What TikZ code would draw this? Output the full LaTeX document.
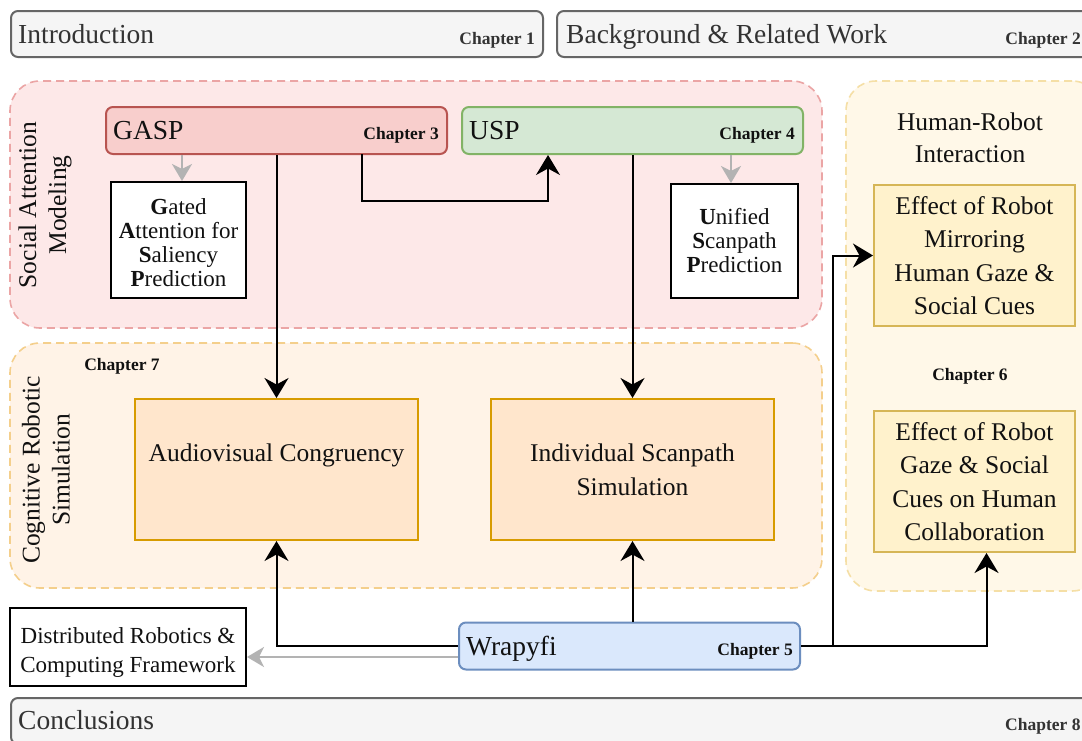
\documentclass[tikz,border=0pt]{standalone}
\usepackage{fontspec}
\setmainfont{Liberation Serif}
\usetikzlibrary{arrows.meta}

\definecolor{hdrfill}{HTML}{F5F5F5}
\definecolor{hdrline}{HTML}{666666}
\definecolor{hdrtext}{HTML}{333333}
\definecolor{samfill}{HTML}{FDE8E8}
\definecolor{samline}{HTML}{EBA5A5}
\definecolor{crsfill}{HTML}{FFF3E7}
\definecolor{crsline}{HTML}{F4CF8C}
\definecolor{hrifill}{HTML}{FFF8E8}
\definecolor{hriline}{HTML}{F5DFA6}
\definecolor{redfill}{HTML}{F8CECC}
\definecolor{redline}{HTML}{B85450}
\definecolor{grnfill}{HTML}{D5E8D4}
\definecolor{grnline}{HTML}{82B366}
\definecolor{orgfill}{HTML}{FFE6CC}
\definecolor{orgline}{HTML}{D79B00}
\definecolor{yelfill}{HTML}{FFF2CC}
\definecolor{yelline}{HTML}{D6B656}
\definecolor{blufill}{HTML}{DAE8FC}
\definecolor{bluline}{HTML}{6C8EBF}
\definecolor{greyarrow}{HTML}{B3B3B3}
\definecolor{ink}{HTML}{111111}

\newcommand\fontHdr{\fontsize{27.5}{30}\selectfont}
\newcommand\fontBox{\fontsize{25.5}{34}\selectfont}
\newcommand\fontSide{\fontsize{25.5}{30}\selectfont}
\newcommand\fontDef{\fontsize{23}{24}\selectfont}
\newcommand\fontChap{\fontsize{17.5}{20}\selectfont\bfseries}

\tikzset{
  blackhead/.tip={Stealth[length=20pt,width=24pt,inset=6.5pt]},
  greyhead/.tip={Stealth[length=17pt,width=20pt,inset=5pt]}
}

\begin{document}
\begin{tikzpicture}[x=1pt,y=-1pt,
  hdrbox/.style={draw=hdrline,fill=hdrfill,line width=2pt,rounded corners=7pt,
    minimum height=46pt,inner sep=0pt},
  hdrtitle/.style={anchor=base west,font=\fontHdr,text=hdrtext,inner sep=0pt},
  hdrchap/.style={anchor=base east,font=\fontChap,text=hdrtext,inner sep=0pt},
  group/.style={line width=1.6pt,dash pattern=on 8pt off 5pt,rounded corners=30pt,inner sep=0pt},
  modbox/.style={line width=2pt,rounded corners=7pt,minimum width=341pt,minimum height=47pt,inner sep=0pt},
  modtitle/.style={anchor=base west,font=\fontHdr,text=ink,inner sep=0pt},
  modchap/.style={anchor=base east,font=\fontChap,text=ink,inner sep=0pt},
  defbox/.style={draw=black,fill=white,line width=2pt,align=center,font=\fontDef,text=ink,inner sep=0pt},
  taskbox/.style={line width=2pt,align=center,font=\fontBox,text=ink,inner sep=0pt},
  sidelabel/.style={rotate=90,align=center,font=\fontSide,text=ink,inner sep=0pt},
  link/.style={line width=2pt,draw=black},
  linkarrow/.style={link,-blackhead},
  greylink/.style={line width=2.5pt,draw=greyarrow,-greyhead}
]
\useasboundingbox (0,0) rectangle (1082,740);
\clip (0,0) rectangle (1082,740);
\fill[white] (0,0) rectangle (1082,740);

% chapter header bars
\node[hdrbox,minimum width=532pt] (intro) at (277,34) {};
\node[hdrtitle] (introT) at (18,43) {Introduction};
\node[hdrchap] (introC) at (535,44) {Chapter 1};

\node[hdrbox,minimum width=534pt] (bg) at (824,34) {};
\node[hdrtitle] (bgT) at (566,43) {Background \& Related Work};
\node[hdrchap] (bgC) at (1081,44) {Chapter 2};

\node[hdrbox,minimum width=1090pt] (concl) at (556,721) {};
\node[hdrtitle] (conclT) at (18,729) {Conclusions};
\node[hdrchap,anchor=base west] (conclC) at (1005,730) {Chapter 8};

% grouping panels
\node[group,draw=samline,fill=samfill,minimum width=812pt,minimum height=247pt] (sam) at (416,204.5) {};
\node[group,draw=crsline,fill=crsfill,minimum width=812pt,minimum height=245pt] (crs) at (416,465.5) {};
\node[group,draw=hriline,fill=hrifill,minimum width=256pt,minimum height=510pt] (hri) at (974,336) {};

\node[sidelabel] (samL) at (45,205) {Social Attention\\Modeling};
\node[sidelabel] (crsL) at (46,470) {Cognitive Robotic\\Simulation};
\node[align=center,text=ink,inner sep=0pt,font=\fontsize{25.5}{32}\selectfont] (hriL) at (970,138) {Human-Robot\\Interaction};
\node[font=\fontChap,text=ink,inner sep=0pt] (ch6) at (970,376) {Chapter 6};
\node[font=\fontChap,text=ink,inner sep=0pt] (ch7) at (122,366) {Chapter 7};

% social attention models
\node[modbox,draw=redline,fill=redfill] (gasp) at (276.5,130.5) {};
\node[modtitle] (gaspT) at (113,139) {GASP};
\node[modchap] (gaspC) at (439,139) {Chapter 3};

\node[modbox,draw=grnline,fill=grnfill] (usp) at (632.5,130.5) {};
\node[modtitle] (uspT) at (469,139) {USP};
\node[modchap] (uspC) at (795,139) {Chapter 4};

\node[defbox,minimum width=135pt,minimum height=116pt] (gated) at (178.5,240)
  {\rule{0pt}{22pt}\textbf{G}ated\\\textbf{A}ttention for\\\textbf{S}aliency\\\textbf{P}rediction};
\node[defbox,minimum width=127pt,minimum height=114pt] (unified) at (734.5,241)
  {\textbf{U}nified\\\textbf{S}canpath\\\textbf{P}rediction};

% simulation tasks
\node[taskbox,draw=orgline,fill=orgfill,minimum width=283pt,minimum height=141pt] (av) at (276.5,469.5)
  {Audiovisual Congruency\\\mbox{}};
\node[taskbox,draw=orgline,fill=orgfill,minimum width=283pt,minimum height=141pt] (isc) at (632.5,469.5)
  {Individual Scanpath\\Simulation};

% human-robot interaction studies
\node[taskbox,draw=yelline,fill=yelfill,minimum width=201pt,minimum height=141pt,font=\fontsize{25.5}{33.5}\selectfont] (mirror) at (974.5,255.5)
  {Effect of Robot\\Mirroring\\Human Gaze \&\\Social Cues};
\node[taskbox,draw=yelline,fill=yelfill,minimum width=201pt,minimum height=141pt,font=\fontsize{25.5}{33.5}\selectfont] (collab) at (974.5,481.5)
  {Effect of Robot\\Gaze \& Social\\Cues on Human\\Collaboration};

% middleware
\node[modbox,draw=bluline,fill=blufill] (wrap) at (629.5,646) {};
\node[modtitle] (wrapT) at (466,655) {Wrapyfi};
\node[modchap] (wrapC) at (793,655) {Chapter 5};
\node[defbox,font=\fontsize{23}{29}\selectfont,minimum width=236pt,minimum height=78pt] (dist) at (128,647)
  {\rule{0pt}{26pt}Distributed Robotics \&\\Computing Framework};

% connectors
\coordinate (split) at (833,646);
\coordinate (gaspOut) at (362,154);
\coordinate (elbowL) at (362,201);
\coordinate (elbowR) at (548,201);
\coordinate (gaspDef) at (182,0);
\coordinate (uspDef) at (731,0);
\coordinate (wrapLow) at ([yshift=-11pt]wrap.west);

\draw[greylink] (gasp.south -| gaspDef) -- (gated.north -| gaspDef);
\draw[greylink] (usp.south -| uspDef) -- (unified.north -| uspDef);
\draw[linkarrow] (gaspOut) -- (elbowL) -- (elbowR) -- (usp.south -| elbowR);
\draw[linkarrow] (gasp.south) -- (av.north);
\draw[linkarrow] (usp.south) -- (isc.north);
\draw[linkarrow] (wrap.west) -| (av.south);
\draw[linkarrow] (wrap.north -| isc.south) -- (isc.south);
\draw[greylink] (wrapLow) -- (dist.east |- wrapLow);
\draw[link] (wrap.east) -- (split);
\draw[linkarrow] (split) |- (mirror.west);
\draw[linkarrow] (split) -| ([xshift=12pt]collab.south);
\end{tikzpicture}
\end{document}
